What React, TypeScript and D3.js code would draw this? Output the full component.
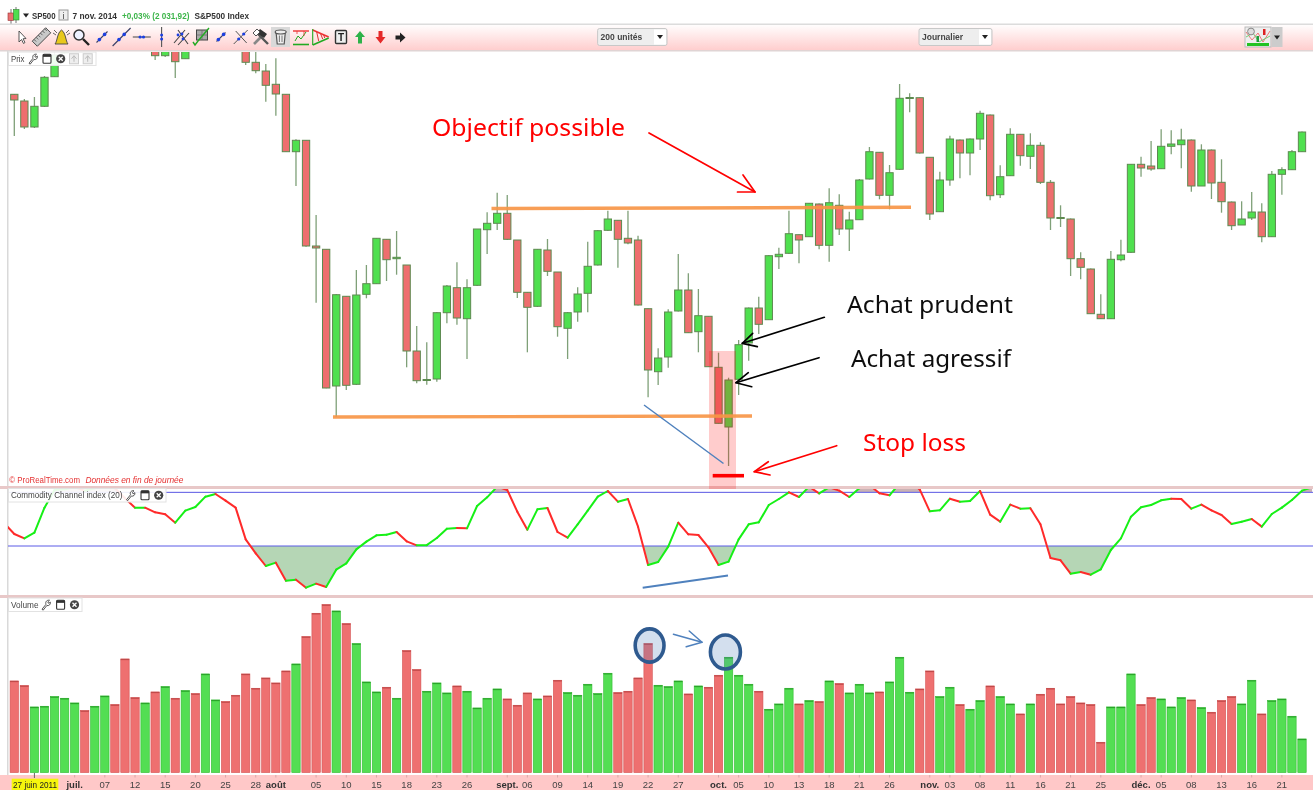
import React from 'react';
import * as d3 from 'd3';

const WIDTH = 1313;
const HEIGHT = 790;

const opens = [1405.7,1399,1373,1393.7,1423.3,1447,1470,1478,1466,1474,1486,1480,1464,1458,1468,1444.3,1460,1441.3,1462,1456,1476,1480,1470,1460,1437.7,1429,1415.7,1405.7,1348.3,1359.7,1254,1250.7,1114,1203.7,1115.7,1205.7,1216.3,1260.7,1241.3,1235,1149,1119.5,1121,1187.3,1212.3,1181.3,1214.7,1270.3,1276.7,1286.7,1260,1207.7,1193.7,1250,1228,1171.7,1188,1206.7,1235,1269.7,1279.7,1261.7,1260,1191.3,1128.3,1143,1189,1210,1168.3,1183.7,1132.7,1073,1120.7,1157,1192,1180.3,1243.3,1246.7,1265.3,1263.3,1296,1254.7,1294.7,1271,1280.3,1321,1347.7,1304.7,1330.7,1401.5,1402.3,1342.7,1288.3,1320,1360,1347,1361,1385,1305.3,1324.3,1365.7,1343.7,1354.7,1317.7,1282.5,1281,1241.3,1231,1185.7,1181.3,1240.3,1247.7,1335.7,1334,1331.3,1353.7,1355.3,1360,1314,1350,1317.7,1298,1275,1282,1288,1263.3,1325.7,1330.3,1348.3];
const highs = [1406,1401,1403,1424,1448,1474,1482,1484,1480,1490,1494,1484,1470,1474,1472,1470,1466,1466,1472,1480,1484,1486,1474,1470,1455,1436,1441.7,1405.7,1360.7,1359.7,1285,1250.7,1206,1204,1230,1235,1262,1261,1269,1235,1174,1157.7,1188,1215,1237.7,1220.7,1271,1287.7,1307.3,1305,1260,1208,1251,1261,1228,1188,1212.7,1258.3,1270,1289.3,1280,1289.3,1264.3,1191.5,1151.7,1190.7,1246,1226.7,1211,1184,1147.3,1122.3,1160,1192.5,1203.3,1245,1252.3,1289.3,1265.5,1297,1296.5,1311.7,1305.7,1288.3,1321,1353,1348,1335,1416,1406.7,1402.5,1343,1328.3,1364.3,1360.5,1361.5,1389.3,1385.5,1334.7,1371.7,1366,1366.7,1357.7,1320,1294.7,1281.5,1247.7,1231.5,1205.7,1249,1260.3,1336,1343.3,1359,1370.7,1369.7,1371.3,1360.5,1355.7,1350.5,1340.7,1298.5,1298.7,1308,1296.7,1329,1332.7,1350,1368.5];
const lows = [1364,1371,1372,1393,1423,1446,1462,1460,1460,1472,1476,1460,1452,1454,1440,1443,1422,1441.3,1452,1452,1470,1466,1450,1435,1426.7,1398.3,1384.3,1348.3,1314,1253.3,1197.3,1111.7,1083,1110,1115,1201.7,1216,1219,1225.3,1132.7,1116.7,1115.3,1118.3,1176.7,1175.3,1141,1214,1246,1270,1260,1202,1147.7,1193,1224,1163.3,1141,1178.3,1187.7,1234.5,1269,1232.3,1255.7,1194.5,1102.7,1115,1132.3,1188.5,1167,1147.7,1133,1076.5,1034,1105,1139.3,1166,1180,1231,1246,1236.7,1263,1250.7,1238.3,1265,1249,1280,1320.5,1300.7,1290.7,1330,1387.7,1346.5,1280,1288,1314.3,1321.7,1324.7,1350,1299.7,1302,1324,1334.3,1331,1316,1270,1273,1224,1220.7,1186,1181,1181,1238.7,1247,1323.3,1329.3,1331,1345.7,1331.7,1308.3,1314,1301,1287.3,1270,1275,1280,1257.7,1263,1305.3,1330,1348];
const closes = [1400,1373,1393.7,1422.7,1445,1470,1478,1466,1474,1486,1480,1464,1458,1468,1444.3,1460,1438.3,1462,1456,1476,1480,1470,1452,1437.7,1429.3,1414.7,1406,1348.3,1359.7,1254,1252,1112,1205.3,1114.7,1205,1216.3,1261.7,1240.3,1242.7,1149,1119.3,1120.5,1187.3,1214,1182,1212.3,1271,1276.7,1286.7,1260.7,1207.7,1192.7,1250.7,1228.7,1173.3,1187.3,1206,1233.7,1269.3,1281,1260.7,1257,1195,1130,1142,1188,1210,1167.3,1184.3,1133.3,1076.7,1120,1155.3,1192,1175.7,1244.3,1245.7,1266.3,1260,1296.7,1254.7,1297.3,1271,1280,1320,1348.3,1304.7,1327.3,1401.7,1402.5,1347,1286,1320,1361,1347,1361,1386.7,1304.3,1323.3,1365.7,1344.3,1354.7,1317.7,1282,1281.5,1241.3,1232.7,1186.3,1181.3,1240.7,1245,1335.7,1332,1331,1353.7,1356,1360,1314,1350,1317,1298.3,1274.3,1281,1288,1263.3,1325.7,1330.3,1348.3,1368];
const volumes = [275,261,197,199,228,223,209,186,199,230,204,341,225,209,242,258,223,246,237,296,218,213,232,296,253,284,269,305,326,408,478,504,485,447,387,272,242,256,223,366,309,244,269,239,260,244,194,223,251,221,202,239,221,230,277,240,232,265,237,298,240,244,284,387,262,258,275,236,260,256,292,346,292,265,244,190,206,253,206,216,213,275,267,239,265,239,242,272,346,241,251,305,228,256,204,190,216,260,228,206,176,206,235,253,206,228,209,204,91,197,197,296,204,225,221,197,225,218,195,181,216,228,206,277,176,216,221,169,101];
// CCI runs from one bar before the first candle to one bar after the last one
const cciValues = [68,36,23,40,115,168,170,176,166,173,183,173,143,115,115,101,95,70,106,117,148,156,136,115,20,-22,-60,-50,-104,-101,-125,-113,-123,-71,-52,-10,13,32,34,42,14,2,2.5,24,52,54,53,120,146,178,168,103,49,110,114,42,25,65,106,148,165,133,141,58,-57,-48,-2,70,35,33,-4,-57,-47,20,65,71,123,141,161,147,178,158,176,166,147,173,183,158,152,188,193,170,104,107,142,133,135,165,94,73,124,112,113,65,-36,-43,-83,-78,-86,-70,-12,23,88,116,123,137,142,141,112,124,107,93,66,73,81,58,96,115,138,166,176];
const cciLevels = [0, 161];

const dayLabels: [number, string][] = [[9,'07'],[12,'12'],[15,'15'],[18,'20'],[21,'25'],[24,'28'],[30,'05'],[33,'10'],[36,'15'],[39,'18'],[42,'23'],[45,'26'],[51,'06'],[54,'09'],[57,'14'],[60,'19'],[63,'22'],[66,'27'],[72,'05'],[75,'10'],[78,'13'],[81,'18'],[84,'21'],[87,'26'],[93,'03'],[96,'08'],[99,'11'],[102,'16'],[105,'21'],[108,'25'],[114,'05'],[117,'08'],[120,'13'],[123,'16'],[126,'21']];
const monthLabels: [number, string][] = [[6,'juil.'],[26,'août'],[49,'sept.'],[70,'oct.'],[91,'nov.'],[112,'déc.']];

const x = d3.scaleLinear().domain([0, opens.length - 1]).range([14.3, 1302]);
const yPrice = d3.scaleLinear().domain([1010, 1500]).range([490, 0]);
const yVol = d3.scaleLinear().domain([0, 534]).range([772.6, 594.6]);
const yCci = d3.scaleLinear().domain([-180, 180]).range([606, 486]);

const ORANGE = '#f79646';
const BLUE = '#4f81bd';
const DOT = '#1c3fe0';
const sans = 'Liberation Sans, Arial, sans-serif';
const anno = '"Noto Sans", "Open Sans", sans-serif';

function Arrow({ from, to, a, b, color, w = 1.7 }: any) {
  return (
    <g stroke={color} strokeWidth={w} fill="none" strokeLinecap="round" strokeLinejoin="round">
      <line x1={from[0]} y1={from[1]} x2={to[0]} y2={to[1]} />
      <polyline points={`${a[0]},${a[1]} ${to[0]},${to[1]} ${b[0]},${b[1]}`} />
    </g>
  );
}

function Wrench({ x: px, y: py }: any) {
  return (
    <g transform={`translate(${px},${py})`} stroke="#444" fill="#fff" strokeWidth={0.9}>
      <path d="M-4,4.5 L0,-0.5 C-1,-3 1,-5 3.5,-4.5 L1.8,-2.8 L2.6,-1.4 L4.4,-2.6 C4.8,-0.4 3,1.4 0.8,0.8 L-2.8,5.4 Z" />
    </g>
  );
}
function WindowIcon({ x: px, y: py }: any) {
  return (
    <g>
      <rect x={px - 4} y={py - 4.5} width={8} height={9} rx={1} fill="#fff" stroke="#333" strokeWidth={1.1} />
      <rect x={px - 4} y={py - 4.5} width={8} height={2.6} fill="#333" />
    </g>
  );
}
function CloseIcon({ x: px, y: py }: any) {
  return (
    <g>
      <circle cx={px} cy={py} r={4.6} fill="#444" />
      <path d={`M${px - 2},${py - 2}L${px + 2},${py + 2}M${px + 2},${py - 2}L${px - 2},${py + 2}`} stroke="#fff" strokeWidth={1.3} />
    </g>
  );
}
function GhostIcon({ x: px, y: py }: any) {
  return (
    <g>
      <rect x={px - 4.5} y={py - 5} width={9} height={10} fill="#eee" stroke="#ccc" />
      <path d={`M${px - 2.5},${py}L${px},${py - 3}L${px + 2.5},${py}M${px},${py - 3}V${py + 3}`} stroke="#bbb" fill="none" />
    </g>
  );
}
function PanelTag({ label, x0, y0, w, h, tw, icons }: any) {
  const cy = y0 + h / 2;
  return (
    <g>
      <rect x={x0} y={y0} width={w} height={h} fill="#fff" fillOpacity={0.9} stroke="#e2e2e2" />
      <text x={x0 + 2.5} y={cy + 3} fontFamily={sans} fontSize={8.5} fill="#444" textLength={tw} lengthAdjust="spacingAndGlyphs">{label}</text>
      <Wrench x={icons[0]} y={cy} />
      <WindowIcon x={icons[1]} y={cy} />
      <CloseIcon x={icons[2]} y={cy} />
      {icons[3] ? <GhostIcon x={icons[3]} y={cy} /> : null}
      {icons[4] ? <GhostIcon x={icons[4]} y={cy} /> : null}
    </g>
  );
}
function LineTool({ px, len = 5, dots = 2 }: any) {
  return (
    <g transform={`translate(${px},37)`} fill={DOT}>
      <line x1={-len} y1={len} x2={len} y2={-len} stroke="#3a3f66" strokeWidth={1.1} />
      <circle cx={-2.6} cy={2.6} r={1.8} />
      <circle cx={2.6} cy={-2.6} r={1.8} />
      {dots > 2 ? <circle cx={0} cy={0} r={1.5} /> : null}
    </g>
  );
}
function Fork({ px }: any) {
  return (
    <g transform={`translate(${px},37)`} fill={DOT}>
      <g stroke="#444" strokeWidth={1.1} fill="none">
        <path d="M-7,6 L4,-7 M-3,8 L8,-4 M-3,-7 L7,7" />
      </g>
      <circle cx={-3} cy={-2} r={1.4} />
      <circle cx={1} cy={-3} r={1.4} />
      <circle cx={2} cy={2} r={1.4} />
    </g>
  );
}
function Dropdown({ x0, x1, label, y0, h }: any) {
  return (
    <g>
      <rect x={x0} y={y0} width={x1 - x0} height={h} rx={2} fill="#eeeeee" stroke="#c8c8c8" />
      <rect x={x1 - 13} y={y0 + 1} width={12} height={h - 2} fill="#fff" />
      <path d={`M${x1 - 10},${y0 + h / 2 - 2} h6 l-3,4 z`} fill="#222" />
      <text x={x0 + 3} y={y0 + h / 2 + 3} fontFamily={sans} fontWeight="bold" fontSize={8.5} fill="#444">{label}</text>
    </g>
  );
}

export default function App() {
  const isUp = opens.map((o, i) => closes[i] >= o);
  const cciPts: [number, number][] = cciValues.map((v, k) => [x(k - 1), yCci(v)]);
  const areaZero = d3.area<[number, number]>().x(d => d[0]).y0(yCci(cciLevels[0])).y1(d => d[1])(cciPts) as string;
  const areaTop = d3.area<[number, number]>().x(d => d[0]).y0(yCci(cciLevels[1])).y1(d => d[1])(cciPts) as string;
  const seg = d3.line();
  const bodyW = 7.3;
  const volW = 8.4;

  return (
    <svg width={WIDTH} height={HEIGHT} viewBox={`0 0 ${WIDTH} ${HEIGHT}`} style={{ position: 'absolute', left: 0, top: 0, display: 'block' }} xmlns="http://www.w3.org/2000/svg">
      <defs>
        <linearGradient id="tb" x1="0" x2="0" y1="0" y2="1">
          <stop offset="0" stopColor="#ffffff" />
          <stop offset="1" stopColor="#ffcccc" />
        </linearGradient>
        <filter id="soft" x="-2%" y="-2%" width="104%" height="104%"><feGaussianBlur stdDeviation="0.45" /></filter>
        <filter id="soft2" x="-2%" y="-2%" width="104%" height="104%"><feGaussianBlur stdDeviation="0.25" /></filter>
        <clipPath id="cPrice"><rect x={8} y={52} width={1305} height={434} /></clipPath>
        <clipPath id="cCci"><rect x={8} y={487} width={1305} height={108} /></clipPath>
        <clipPath id="cBelow"><rect x={8} y={yCci(cciLevels[0])} width={1305} height={49} /></clipPath>
        <clipPath id="cAbove"><rect x={8} y={486} width={1305} height={yCci(cciLevels[1]) - 486} /></clipPath>
      </defs>
      <rect width={WIDTH} height={HEIGHT} fill="#fff" />

      <g filter="url(#soft)">
        {/* header */}
        <g>
          <line x1={11} x2={11} y1={9} y2={24} stroke="#777" />
          <line x1={16} x2={16} y1={7} y2={23} stroke="#777" />
          <rect x={8} y={13} width={5.5} height={7.5} fill="#e87070" stroke="#933" strokeWidth={0.6} />
          <rect x={13.5} y={9.5} width={5.5} height={10.5} fill="#50dd50" stroke="#383" strokeWidth={0.6} />
          <path d="M23,13.5 h6 l-3,4 z" fill="#222" />
          <text x={32} y={19} fontFamily={sans} fontWeight="bold" fontSize={9} fill="#333" textLength={23.6} lengthAdjust="spacingAndGlyphs">SP500</text>
          <rect x={59} y={10} width={9} height={10} fill="#eee" stroke="#999" />
          <text x={63.5} y={18.5} textAnchor="middle" fontFamily={sans} fontSize={9} fill="#444">i</text>
          <text x={72.4} y={19} fontFamily={sans} fontWeight="bold" fontSize={9} fill="#333" textLength={44.6} lengthAdjust="spacingAndGlyphs">7 nov. 2014</text>
          <text x={122} y={19} fontFamily={sans} fontWeight="bold" fontSize={9} fill="#3db54a" textLength={67.4} lengthAdjust="spacingAndGlyphs">+0,03% (2 031,92)</text>
          <text x={194.4} y={19} fontFamily={sans} fontWeight="bold" fontSize={9} fill="#333" textLength={54.6} lengthAdjust="spacingAndGlyphs">S&amp;P500 Index</text>
        </g>

        {/* toolbar */}
        <rect x={0} y={24} width={WIDTH} height={27} fill="url(#tb)" />
        <rect x={0} y={23.5} width={WIDTH} height={1.5} fill="#dcdcdc" />
        <rect x={0} y={50} width={WIDTH} height={1.5} fill="#e0d4d4" />
        <rect x={271} y={27} width={19} height={20} fill="#d9d9d9" />
        <path d="M19,31 L19,42 L21.5,39.5 L23.5,43.5 L25,42.5 L23,38.8 L26,38.5 Z" fill="#fff" stroke="#444" strokeWidth={0.9} />
        <g transform="translate(41.5,37) rotate(-45)">
          <rect x={-9.5} y={-3.6} width={19} height={7.2} fill="#c9c9c9" stroke="#444" strokeWidth={0.9} />
          <path d="M-7,-3.6v3M-4,-3.6v3M-1,-3.6v3M2,-3.6v3M5,-3.6v3M8,-3.6v3" stroke="#444" strokeWidth={0.7} />
        </g>
        <g stroke="#555" strokeWidth={0.9} fill="none"><path d="M53,33 L56,35 M54,30 L57,33 M70,33 L67,35 M69,30 L66,33" /></g>
        <path d="M55,44 C57.5,41 57,33 61.5,30 C66,33 65.5,41 68,44 Z" fill="#e8c81e" stroke="#444" strokeWidth={0.9} />
        <circle cx={79} cy={35} r={5} fill="#eef2ff" stroke="#333" strokeWidth={1.5} />
        <line x1={83} y1={39} x2={89} y2={45} stroke="#222" strokeWidth={2.4} />
        <LineTool px={102} len={5.5} />
        <LineTool px={121.6} len={9} />
        <g transform="translate(141.8,37)"><line x1={-9} x2={9} y1={0} y2={0} stroke="#555" strokeWidth={1.1} /><circle cx={-1.7} cy={0} r={1.6} fill={DOT} /><circle cx={1.7} cy={0} r={1.6} fill={DOT} /></g>
        <g transform="translate(161.6,37)"><line y1={-10} y2={10} x1={0} x2={0} stroke="#555" strokeWidth={1.1} /><circle cy={-2} cx={0} r={1.5} fill={DOT} /><circle cy={2} cx={0} r={1.5} fill={DOT} /></g>
        <Fork px={181} />
        <g transform="translate(201,37)">
          <rect x={-4.5} y={-7} width={11} height={10} fill="#aaa" stroke="#444" />
          <path d="M-4.5,-2H6.5M1,-7V3" stroke="#666" strokeWidth={0.7} />
          <path d="M-8,5 L-6,8 L-3,4 L8,-9" stroke="#22aa22" strokeWidth={1.4} fill="none" />
        </g>
        <LineTool px={221} len={4.5} />
        <g transform="translate(240.7,37)" fill={DOT}><path d="M-7,7 L7,-7 M-5,-6 L6,6" stroke="#555" strokeWidth={1} fill="none" /><circle cx={-2} cy={2} r={1.6} /><circle cx={3} cy={-3} r={1.6} /></g>
        <g transform="translate(261,37)">
          <path d="M-7,7 L4,-4" stroke="#888" strokeWidth={2.6} />
          <path d="M7,7 L-3,-3" stroke="#555" strokeWidth={2.4} />
          <path d="M-1,-8 L6,-3 L3,1 L-4,-4 Z" fill="#333" />
          <path d="M-8,-4 L-4,-8 L-1,-5 L-5,-1 Z" fill="#fff" stroke="#555" />
        </g>
        <g transform="translate(280.7,37)" stroke="#555" fill="#eee" strokeWidth={1.2}><path d="M-4.5,-3.5 L-3.5,7 H3.5 L4.5,-3.5 Z" /><ellipse cx={0} cy={-5} rx={5.5} ry={2} /><path d="M-1.3,-1.5V5M1.3,-1.5V5" strokeWidth={0.8} /></g>
        <g transform="translate(301,37)" fill="none"><path d="M-8,-6 H8" stroke="#e33" strokeWidth={1.4} /><path d="M-8,7.5 H8" stroke="#2a2" strokeWidth={1.6} /><path d="M-6,4 L-3,-1 L0,2 L5,-5" stroke="#2a2" strokeWidth={1} /><path d="M-4,-6V-3M3,-6V-1" stroke="#e33" strokeWidth={0.8} /></g>
        <g transform="translate(320.7,37)" fill="none"><path d="M-8,-7 L8,0" stroke="#e33" strokeWidth={1.6} /><path d="M-8,8 L8,1" stroke="#2a2" strokeWidth={1.6} /><path d="M-8,-8 V8" stroke="#2a2" strokeWidth={1.1} /><path d="M-4,-5 L-2,4 M0,-3 L2,2 M3,-2 L4,1" stroke="#d33" strokeWidth={1} /></g>
        <g transform="translate(341,37)"><rect x={-5.5} y={-6.5} width={11} height={13} rx={1} fill="#eee" stroke="#333" strokeWidth={1.4} /><text x={0} y={3.5} textAnchor="middle" fontFamily={sans} fontWeight="bold" fontSize={10} fill="#222">T</text></g>
        <path d="M360,31 L365,37 H362 V43.5 H358 V37 H355 Z" fill="#2fb24a" />
        <path d="M380.5,43.5 L385.5,37 H382.5 V31 H378.5 V37 H375.5 Z" fill="#e52a2a" />
        <path d="M405.5,37.5 L400,32.5 V35.5 H395.5 V39.5 H400 V42.5 Z" fill="#222" />

        <Dropdown x0={597.6} x1={667} y0={28.5} h={17} label="200 unités" />
        <Dropdown x0={919} x1={992} y0={28.5} h={17} label="Journalier" />
        <g>
          <rect x={1245} y={27} width={26} height={20} fill="#eee" stroke="#bbb" />
          <path d="M1246,32 L1252,40 L1258,33 L1263,42 L1270,31" stroke="#e77" fill="none" />
          <path d="M1246,37 L1253,33 L1259,42 L1270,36" stroke="#7c7" fill="none" />
          <rect x={1247} y={43} width={22} height={3} fill="#22c322" />
          <rect x={1256.5} y={36} width={2.5} height={6} fill="#1a9e3a" />
          <rect x={1263} y={29} width={2.5} height={6} fill="#d22" />
          <circle cx={1251} cy={31.5} r={3.4} fill="#ddd" stroke="#888" />
          <rect x={1271.5} y={27} width={11} height={20} fill="#ccc" />
          <path d="M1274,35.5 h6 l-3,4 z" fill="#222" />
        </g>

        {/* left frame */}
        <rect x={7} y={51} width={1.5} height={724} fill="#d9d9d9" />

        {/* candles */}
        <g clipPath="url(#cPrice)">
          {opens.map((o, i) => {
            const top = yPrice(Math.max(o, closes[i]));
            const bot = yPrice(Math.min(o, closes[i]));
            return (
              <g key={i}>
                <line x1={x(i)} x2={x(i)} y1={yPrice(highs[i])} y2={yPrice(lows[i])} stroke="#7fa078" strokeWidth={1.3} />
                <rect x={x(i) - bodyW / 2} y={top} width={bodyW} height={Math.max(bot - top, 1)} fill={isUp[i] ? '#4fe04f' : '#ee6e6e'} stroke="#5d8a50" strokeWidth={1} />
              </g>
            );
          })}
        </g>

        <text x={9.3} y={483} fontFamily={sans} fontSize={8.5} fill="#e53030" textLength={70.7} lengthAdjust="spacingAndGlyphs">© ProRealTime.com</text>
        <text x={85.4} y={483} fontFamily={sans} fontStyle="italic" fontSize={8.5} fill="#e53030" textLength={98} lengthAdjust="spacingAndGlyphs">Données en fin de journée</text>

        {/* CCI */}
        <g clipPath="url(#cCci)">
          <path d={areaZero} fill="#b5d6b5" clipPath="url(#cBelow)" />
          <path d={areaTop} fill="#c9b2b4" clipPath="url(#cAbove)" />
          {cciLevels.map(l => (
            <line key={l} x1={8} x2={WIDTH} y1={yCci(l)} y2={yCci(l)} stroke="#5a5ae6" strokeWidth={1} />
          ))}
          {cciPts.slice(1).map((p, k) => (
            <path key={k} d={seg([cciPts[k], p]) as string} fill="none" stroke={cciValues[k + 1] >= cciValues[k] ? '#16f016' : '#ff2a2a'} strokeWidth={2} strokeLinecap="round" />
          ))}
        </g>

        {/* separators */}
        <rect x={0} y={486} width={WIDTH} height={3} fill="#e8c8c8" />
        <rect x={0} y={595} width={WIDTH} height={3} fill="#e8c8c8" />

        {/* volume */}
        {volumes.map((v, i) => (
          <g key={i}>
            <rect x={x(i) - volW / 2} y={yVol(v)} width={volW} height={yVol(0) - yVol(v)} fill={isUp[i] ? '#52de52' : '#ee7070'} stroke={isUp[i] ? '#35bb35' : '#d45555'} strokeWidth={0.6} />
            <rect x={x(i) - volW / 2} y={yVol(v)} width={volW} height={1.2} fill={isUp[i] ? '#2aa52a' : '#c04848'} />
          </g>
        ))}

        {/* time axis */}
        <rect x={0} y={775} width={WIDTH} height={15} fill="#ffc8c8" />
        <rect x={11.7} y={778.7} width={46.6} height={11.3} fill="#f5f50a" />
        <text x={35} y={788} textAnchor="middle" fontFamily={sans} fontSize={9.5} fill="#222" textLength={44} lengthAdjust="spacingAndGlyphs">27 juin 2011</text>
        {dayLabels.map(([i, t]) => (
          <text key={`d${i}`} x={x(i)} y={788} textAnchor="middle" fontFamily={sans} fontSize={9.5} fill="#444">{t}</text>
        ))}
        {monthLabels.map(([i, t]) => (
          <text key={`m${i}`} x={x(i)} y={788} textAnchor="middle" fontFamily={sans} fontWeight="bold" fontSize={9.5} fill="#333">{t}</text>
        ))}
        {[...dayLabels, ...monthLabels].map(([i]) => (
          <line key={`t${i}`} x1={x(i)} x2={x(i)} y1={775} y2={777.5} stroke="#d8a8a8" />
        ))}
        <line x1={x(2)} x2={x(2)} y1={773} y2={778} stroke="#666" />

        {/* panel tags */}
        <PanelTag label="Prix" x0={8.5} y0={52} w={87.5} h={13.5} tw={13.5} icons={[33, 47, 60.7, 74, 87.7]} />
        <PanelTag label="Commodity Channel index (20)" x0={8.5} y0={488.5} w={157.5} h={13.5} tw={111.5} icons={[130.5, 145, 158.7]} />
        <PanelTag label="Volume" x0={8.5} y0={598} w={73.5} h={13.5} tw={27.5} icons={[46, 60.6, 74.5]} />
      </g>

      {/* annotations */}
      <g filter="url(#soft2)">
        <rect x={709} y={351} width={27} height={138} fill="#ff0000" fillOpacity={0.2} />
        <line x1={491.5} y1={208.5} x2={911} y2={207.3} stroke={ORANGE} strokeWidth={3.4} strokeOpacity={0.92} />
        <line x1={333} y1={417} x2={752} y2={416} stroke={ORANGE} strokeWidth={3.4} strokeOpacity={0.92} />
        <line x1={644} y1={405} x2={723.5} y2={463.5} stroke={BLUE} strokeWidth={1.5} />
        <line x1={642.7} y1={587.7} x2={728} y2={575.5} stroke={BLUE} strokeWidth={2} />
        <line x1={712.7} y1={475.7} x2={744} y2={475.7} stroke="#ff0000" strokeWidth={3.6} />

        <Arrow from={[649, 133]} to={[755, 192]} a={[737.5, 192]} b={[743, 175]} color="#ff0000" />
        <Arrow from={[836.7, 445.7]} to={[754.3, 471.7]} a={[768.3, 461.7]} b={[770, 475]} color="#ff0000" />
        <Arrow from={[824.3, 317.3]} to={[742.3, 343.3]} a={[752.7, 333.3]} b={[757.3, 346.7]} color="#000" />
        <Arrow from={[819, 357.7]} to={[736, 382.7]} a={[748.3, 372.7]} b={[751.7, 386.7]} color="#000" />
        <Arrow from={[673.4, 634.3]} to={[702, 642.3]} a={[689.2, 631]} b={[686.2, 646.7]} color={BLUE} w={1.5} />

        <ellipse cx={649.6} cy={645.5} rx={14.4} ry={16.6} fill={BLUE} fillOpacity={0.25} stroke="#2f5a8f" strokeWidth={3.6} />
        <ellipse cx={725.4} cy={652} rx={15} ry={17} fill={BLUE} fillOpacity={0.25} stroke="#2f5a8f" strokeWidth={3.6} />

        <text x={432} y={136} fontFamily={anno} fontSize={24} fill="#ff0000" textLength={193} lengthAdjust="spacingAndGlyphs">Objectif possible</text>
        <text x={847} y={313} fontFamily={anno} fontSize={24} fill="#111" textLength={166} lengthAdjust="spacingAndGlyphs">Achat prudent</text>
        <text x={851} y={367} fontFamily={anno} fontSize={24} fill="#111" textLength={160} lengthAdjust="spacingAndGlyphs">Achat agressif</text>
        <text x={863} y={451} fontFamily={anno} fontSize={24} fill="#ff0000" textLength={103} lengthAdjust="spacingAndGlyphs">Stop loss</text>
      </g>
    </svg>
  );
}
